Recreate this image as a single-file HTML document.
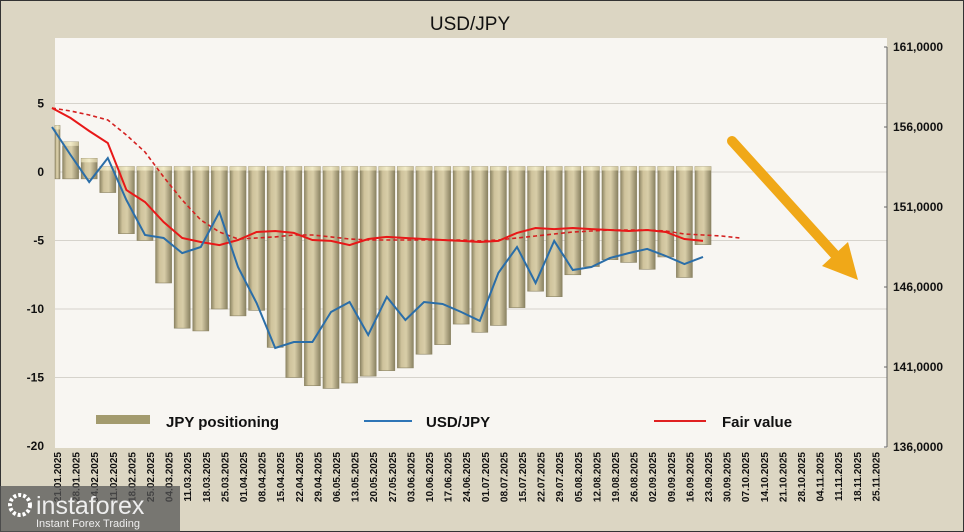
<!DOCTYPE html>
<html><head><meta charset="utf-8"><style>
html,body{margin:0;padding:0;background:#dcd6c3;}
svg{display:block;font-family:"Liberation Sans",sans-serif;}
</style></head><body>
<svg id="chart" width="964" height="532" viewBox="0 0 964 532">
<defs>
<linearGradient id="barg" x1="0" x2="1" y1="0" y2="0">
<stop offset="0" stop-color="#8f8766"/><stop offset="0.25" stop-color="#cfc39c"/><stop offset="0.55" stop-color="#d8cda8"/><stop offset="1" stop-color="#8a8262"/>
</linearGradient>
<linearGradient id="capg" x1="0" x2="1"><stop offset="0" stop-color="#d8cfa8"/><stop offset="0.5" stop-color="#f2ebc8"/><stop offset="1" stop-color="#c9bf98"/></linearGradient>
</defs>
<rect x="0.5" y="0.5" width="963" height="531" fill="#dcd6c3" stroke="#333"/>
<text x="470" y="30" font-size="19" text-anchor="middle" fill="#111">USD/JPY</text>
<rect x="55" y="38" width="832" height="410" fill="#f8f6f2"/>
<g id="grid"></g>
<g id="bars"></g>
<g id="lines"></g>
<g id="axes"></g>
<g>
<rect x="96" y="415" width="54" height="9" fill="#a39b6e"/>
<text x="166" y="427" font-size="15" font-weight="bold" fill="#111">JPY positioning</text>
<line x1="364" y1="421" x2="412" y2="421" stroke="#2e75b6" stroke-width="2"/>
<text x="426" y="427" font-size="15" font-weight="bold" fill="#111">USD/JPY</text>
<line x1="654" y1="421" x2="706" y2="421" stroke="#e02020" stroke-width="2"/>
<text x="722" y="427" font-size="15" font-weight="bold" fill="#111">Fair value</text>
</g>
<g>
<line x1="732" y1="141" x2="838" y2="258" stroke="#f0a818" stroke-width="10" stroke-linecap="round"/>
<polygon points="858,280 822,266 848,242" fill="#f0a818"/>
</g>
<g>
<rect x="0" y="486" width="180" height="46" fill="#555" opacity="0.75"/>
<circle cx="20" cy="505" r="10" fill="none" stroke="#fff" stroke-width="4" stroke-dasharray="3 2"/>
<text x="36" y="514" font-size="25" fill="#eee">instaforex</text>
<text x="36" y="527" font-size="11" fill="#eee">Instant Forex Trading</text>
</g>
</svg>
<script>
const dates=["28.01.2025","04.02.2025","11.02.2025","18.02.2025","25.02.2025","04.03.2025","11.03.2025","18.03.2025","25.03.2025","01.04.2025","08.04.2025","15.04.2025","22.04.2025","29.04.2025","06.05.2025","13.05.2025","20.05.2025","27.05.2025","03.06.2025","10.06.2025","17.06.2025","24.06.2025","01.07.2025","08.07.2025","15.07.2025","22.07.2025","29.07.2025","05.08.2025","12.08.2025","19.08.2025","26.08.2025","02.09.2025","09.09.2025","16.09.2025","23.09.2025","30.09.2025","07.10.2025","14.10.2025","21.10.2025","28.10.2025","04.11.2025","11.11.2025","18.11.2025","25.11.2025"];
const firstLabel="21.01.2025";
const positioning=[3.4,2.2,1.0,-1.5,-4.5,-5.0,-8.1,-11.4,-11.6,-10.0,-10.5,-10.1,-12.8,-15.0,-15.6,-15.8,-15.4,-14.9,-14.5,-14.3,-13.3,-12.6,-11.1,-11.7,-11.2,-9.9,-8.7,-9.1,-7.5,-6.9,-6.4,-6.6,-7.1,-6.2,-7.7,-5.3];
const usdjpy=[156000,154250,152560,154060,151440,149250,149060,148120,148500,150690,147250,145000,142190,142560,142560,144440,145060,143000,145380,143940,145060,144940,144440,143880,146880,148500,146250,148880,147060,147250,147810,148120,148380,147940,147440,147880];
const fairValue=[157190,156560,155750,155000,152060,151310,150060,149060,148810,148620,148940,149440,149500,149380,148940,148880,148620,149000,149130,149060,149000,148940,148880,148810,148880,149380,149690,149620,149690,149620,149560,149500,149560,149440,149000,148880];
const fairTrend=[157190,157000,156750,156440,155500,154440,152880,151440,150190,149440,149000,149060,149130,149250,149250,149130,149000,148940,148940,148940,148940,148940,148940,148880,148940,149060,149190,149310,149440,149500,149560,149560,149560,149500,149310,149250,149190,149060];
const leftTicks=[5,0,-5,-10,-15,-20];
const rightTicks=[161000,156000,151000,146000,141000,136000];

const NS="http://www.w3.org/2000/svg";
function mk(tag,attrs,parent){const e=document.createElementNS(NS,tag);for(const k in attrs)e.setAttribute(k,attrs[k]);parent.appendChild(e);return e;}
const X=i=>52+18.6*i;
const YL=v=>172-v*13.7;
const YR=v=>47+(161000-v)*0.016;
const grid=document.getElementById('grid'),bars=document.getElementById('bars'),lines=document.getElementById('lines'),axes=document.getElementById('axes');
leftTicks.forEach(t=>{
  if(t!==-20){const g=mk('line',{x1:55,x2:887,y1:YL(t),y2:YL(t),stroke:'#d6d3cc','stroke-width':1},grid);
  
  }
  const tx=mk('text',{x:44,y:YL(t)+4,'font-size':12,'font-weight':'bold','text-anchor':'end',fill:'#111'},axes);
  tx.textContent=t;
  
  
});
mk('line',{x1:887,x2:887,y1:47,y2:447,stroke:'#666'},axes);
rightTicks.forEach(t=>{
  const tx=mk('text',{x:893,y:YR(t)+4,'font-size':12,'font-weight':'bold',fill:'#111'},axes);
  tx.textContent=(t/1000).toFixed(0)+',0000';
  
  
  mk('line',{x1:884,x2:887,y1:YR(t),y2:YR(t),stroke:'#666'},axes);
});
const allDates=[firstLabel].concat(dates);
allDates.forEach((d,i)=>{
  const x=X(i)+9,y=452;
  const tx=mk('text',{x:x,y:y,'font-size':10,'font-weight':'bold',fill:'#111','text-anchor':'end',transform:`rotate(-90 ${x} ${y})`},axes);
  tx.textContent=d;
  
  
});
positioning.forEach((v,i)=>{
  const top=v>0?YL(v):YL(0.4), bot=v>0?YL(-0.5):YL(v);
  const x=Math.max(55,X(i)-8), w=X(i)+8-x;
  const b=mk('rect',{x:x,y:top,width:w,height:bot-top,fill:'url(#barg)',stroke:'#8a8262','stroke-width':0.6},bars);
  
  
  mk('rect',{x:x,y:top,width:w,height:4,fill:'url(#capg)'},bars);
});
function path(arr,fn,attrs,name){
  const d=arr.map((v,i)=>(i?'L':'M')+X(i).toFixed(1)+','+fn(v).toFixed(1)).join(' ');
  const p=mk('path',Object.assign({d:d,fill:'none'},attrs),lines);
  
  
}
path(fairTrend,YR,{stroke:'#d42020','stroke-width':1.6,'stroke-dasharray':'4 3'},'fair-value-trend-line');
path(fairValue,YR,{stroke:'#e81818','stroke-width':2},'fair-value-line');
path(usdjpy,YR,{stroke:'#2b6ea8','stroke-width':2},'usdjpy-line');
</script>
</body></html>
